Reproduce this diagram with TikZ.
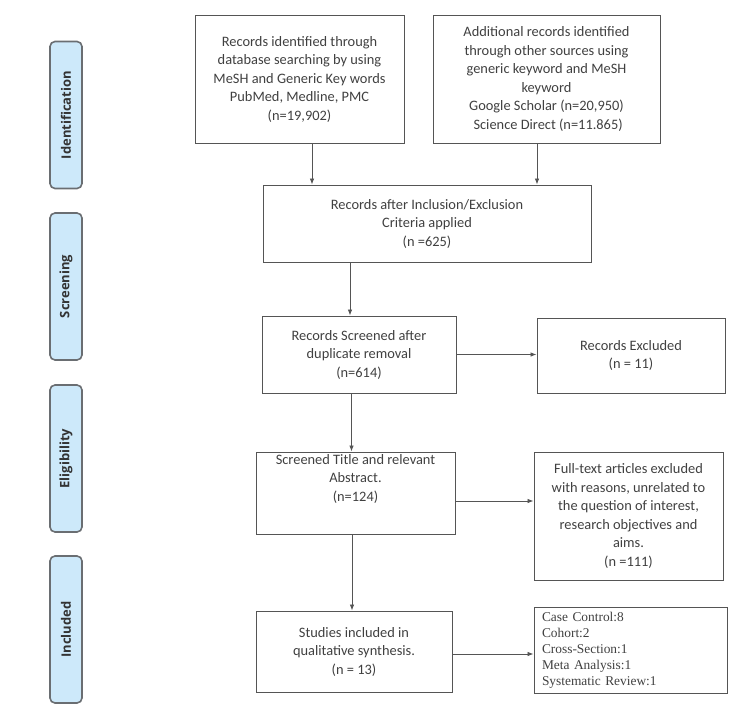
\documentclass[tikz,border=0pt]{standalone}
\usepackage{fontspec}
\setmainfont{Carlito}
\newfontfamily\timesfont{Liberation Serif}
\newfontfamily\phasefont{Open Sans}
\usetikzlibrary{arrows.meta}

\definecolor{phasefill}{HTML}{CDE9FA}
\definecolor{phaseline}{HTML}{6A6E72}
\definecolor{boxline}{HTML}{555555}
\definecolor{boxtext}{HTML}{404040}

\tikzset{
  box/.style={shape=rectangle,draw=boxline,line width=0.9pt,text=boxtext,align=center,
    font=\fontsize{14.4}{18.5}\selectfont,inner sep=2pt},
  phase/.style={shape=rectangle,rounded corners=5pt,draw=phaseline,line width=1.6pt,
    fill=phasefill,rotate=90,minimum width=147pt,minimum height=32pt,
    font=\phasefont\fontsize{13}{15}\selectfont\bfseries,text=black!80},
  link/.style={->,color=boxline,line width=0.8pt},
  >={Latex[length=6pt,width=4.5pt]}
}

\begin{document}
\begin{tikzpicture}[x=1pt,y=-1pt]
        \useasboundingbox (0,0) rectangle (750,720);
        % phase labels
        \node[phase] (P1) at (66,115) {Identification};
        \node[phase] (P2) at (66,286.5) {Screening};
        \node[phase] (P3) at (66,458.5) {Eligibility};
        \node[phase] (P4) at (66,629.5) {Included};
        % boxes
        \node[box,minimum width=209pt,minimum height=128pt] (A) at (299.5,79)
            {Records identified through\\database searching by using\\MeSH and Generic Key words\\PubMed, Medline, PMC\\(n=19,902)};
        \node[box,minimum width=227pt,minimum height=128pt] (B) at (546.5,79)
            {Additional records identified\\through other sources using\\generic keyword and MeSH\\keyword\\Google Scholar (n=20,950)\\\ Science Direct (n=11.865)};
        \node[box,minimum width=328pt,minimum height=77pt] (C) at (427,223.5)
            {Records after Inclusion/Exclusion\\Criteria applied\\(n =625)};
        \node[box,minimum width=194pt,minimum height=77pt] (D) at (359,354.5)
            {Records Screened after\\duplicate removal\\(n=614)};
        \node[box,minimum width=188pt,minimum height=75pt] (E) at (631,355.5)
            {Records Excluded\\(n = 11)};
        \node[box,minimum width=199pt,minimum height=82pt] (F) at (355.5,493)
            {Screened Title and relevant\\Abstract.\\(n=124)\\[12pt]};
        \node[box,minimum width=189pt,minimum height=128pt] (G) at (628.5,516)
            {Full-text articles excluded\\with reasons, unrelated to\\the question of interest,\\research objectives and\\aims.\\(n =111)};
        \node[box,minimum width=193pt,minimum height=86pt,align=left,text width=177pt,
            inner xsep=8pt,font=\timesfont\fontsize{13.4}{16}\selectfont] (I) at (630.5,650)
            {Case Control:8\\Cohort:2\\Cross-Section:1\\Meta Analysis:1\\Systematic Review:1};
        \node[box,minimum width=196pt,minimum height=81pt] (H) at (354,651.5)
            {Studies included in\\qualitative synthesis.\\(n = 13)};
        % arrows
        \path [link] ([xshift=12.5pt]A.south) edge ([xshift=12.5pt]A.south |- C.north);
        \path [link] ([xshift=-9.5pt]B.south) edge ([xshift=-9.5pt]B.south |- C.north);
        \path [link] ([xshift=-9pt]D.north |- C.south) edge ([xshift=-9pt]D.north);
        \path [link] ([xshift=-4pt]F.north |- D.south) edge ([xshift=-4pt]F.north);
        \path [link] ([xshift=-2pt]H.north |- F.south) edge ([xshift=-2pt]H.north);
        \path [link] (D.east) edge (D.east -| E.west);
        \path [link] ([yshift=-8pt]F.east) edge ([yshift=-8pt]F.east -| G.west);
        \path [link] ([yshift=-2.5pt]H.east) edge ([yshift=-2.5pt]H.east -| I.west);
    \end{tikzpicture}
\end{document}
